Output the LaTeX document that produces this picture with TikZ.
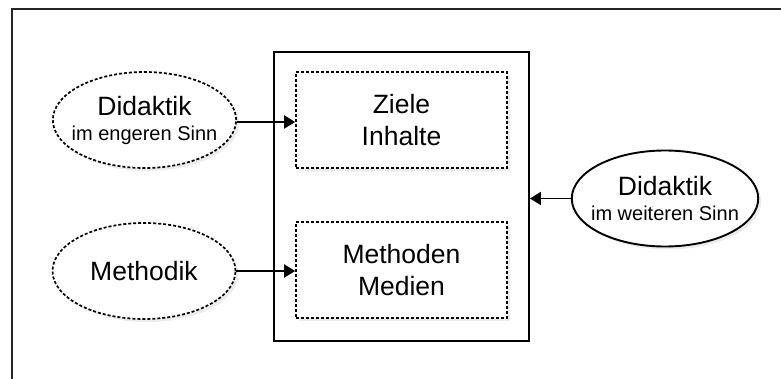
\documentclass[tikz,border=0pt]{standalone}
\usepackage{fontspec}
\setmainfont{Liberation Sans}
\usetikzlibrary{arrows.meta,shapes.geometric,shadows}

\begin{document}
\begin{tikzpicture}[x=1pt,y=-1pt,
  bigtxt/.style={font=\fontsize{26.5}{32}\selectfont},
  softshadow/.style={drop shadow={shadow xshift=3pt,shadow yshift=-3pt,fill=black!14}},
  dotline/.style={line width=1.7pt,dash pattern=on 3pt off 2pt},
  concept/.style={ellipse,draw,fill=white,softshadow,minimum width=183pt,
    minimum height=96pt,inner xsep=-8pt,inner ysep=0pt,align=center,
    font=\fontsize{26.5}{25}\selectfont},
  part/.style={rectangle,draw,dotline,fill=white,softshadow,minimum width=211pt,
    minimum height=96pt,inner sep=0pt,align=center,bigtxt},
  frame/.style={rectangle,draw,line width=1.9pt,minimum width=255pt,
    minimum height=289pt,inner sep=0pt},
  link/.style={line width=1.9pt,-{Triangle[length=11pt,width=13pt]}}
]
  \useasboundingbox (0,0) rectangle (781,379);
  \fill[white] (0,0) rectangle (781,379);

  % cropped outer border
  \coordinate (bl) at (12,379);
  \coordinate (tl) at (12,9);
  \coordinate (tr) at (781,9);
  \draw[line width=1.6pt,black!85] (bl) -- (tl) -- (tr);

  % central block with its two parts
  \node[frame] (main) at (401.5,196.5) {};
  \node[part] (goals) at (401.5,120)
    {Ziele\\Inhalte};
  \node[part] (methods) at (401.5,270)
    {Methoden\\Medien};

  % surrounding concepts
  \node[concept,dotline] (narrow) at (144.5,120)
    {Didaktik\\\fontsize{20}{24}\selectfont im engeren Sinn};
  \node[concept,dotline] (methodik) at (144,271)
    {Methodik};
  \node[concept,line width=1.9pt] (wide) at (665,198.5)
    {Didaktik\\\fontsize{20}{24}\selectfont im weiteren Sinn};

  % connectors
  \draw[link] (narrow.east) ++(0,2) -- (goals.west |- 0,122);
  \draw[link] (methodik.east) -- (methods.west |- methodik.east);
  \draw[link] (wide.west) -- (main.east |- wide.west);
\end{tikzpicture}
\end{document}
